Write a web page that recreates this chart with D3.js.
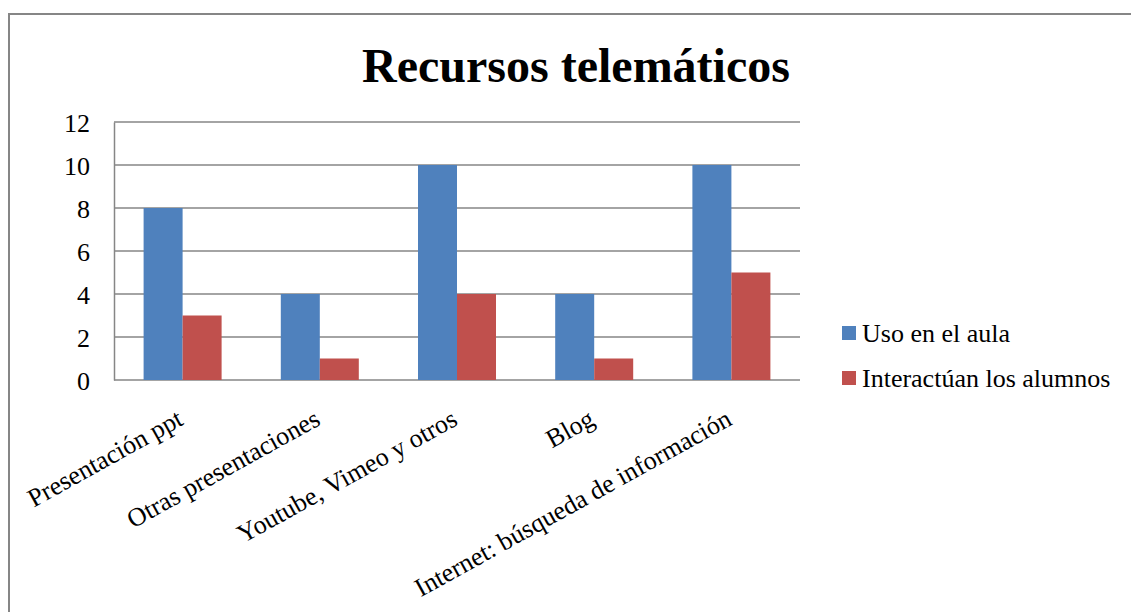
<!DOCTYPE html>
<html>
<head>
<meta charset="utf-8">
<script src="https://cdn.jsdelivr.net/npm/d3@7"></script>
<style>
  body { margin: 0; background: #fff; }
  text { font-family: "Liberation Serif", "Times New Roman", serif; fill: #000; }
</style>
</head>
<body>
<svg id="chart" width="1131" height="612"></svg>
<script>
var categories = ["Presentación ppt", "Otras presentaciones", "Youtube, Vimeo y otros", "Blog", "Internet: búsqueda de información"];
var seriesNames = ["Uso en el aula", "Interactúan los alumnos"];
var usoAula = [8, 4, 10, 4, 10];
var interactuan = [3, 1, 4, 1, 5];
var yTicks = [0, 2, 4, 6, 8, 10, 12];
var colors = ["#4F81BD", "#C0504D"];

var svg = d3.select('#chart');

// outer frame
svg.append("rect")
  .attr("x", 9).attr("y", 14)
  .attr("width", 1140).attr("height", 620)
  .attr("fill", "none")
  .attr("stroke", "#868686")
  .attr("stroke-width", 2);

svg.append("text")
  .attr("x", 576).attr("y", 82)
  .attr("text-anchor", "middle")
  .style("font-size", "48px")
  .style("font-weight", "bold")
  .text("Recursos telemáticos");

var plotLeft = 114, plotRight = 800, plotTop = 122, plotBottom = 380;

var x = d3.scaleBand().domain(categories).range([plotLeft, plotRight]);
var xSeries = d3.scaleBand().domain(seriesNames).range([0, 78]);
var y = d3.scaleLinear().domain([0, 12]).range([plotBottom, plotTop]);

// gridlines
svg.selectAll('.grid')
  .data(yTicks)
  .enter()
  .append("line")
  .attr("x1", plotLeft).attr("x2", plotRight)
  .attr("y1", function(d) { return y(d); })
  .attr("y2", function(d) { return y(d); })
  .attr("stroke", "#868686")
  .attr("stroke-width", 1.5);

// y axis
var yAxis = svg.append("g")
  .attr("transform", "translate(" + plotLeft + ",0)")
  .call(d3.axisLeft(y).tickValues(yTicks).tickSize(0).tickPadding(24));
yAxis.attr("font-family", "Liberation Serif").attr("font-size", 26);
yAxis.select(".domain").attr("stroke", "#868686").attr("stroke-width", 1.5);
yAxis.selectAll("text").attr("dy", "0.35em");

var rows = categories.map(function(c, i) {
  return { cat: c, values: [usoAula[i], interactuan[i]] };
});

var offset = (x.bandwidth() - 78) / 2;
var groups = svg.selectAll('.group')
  .data(rows)
  .enter()
  .append("g")
  .attr("transform", function(d) { return "translate(" + (x(d.cat) + offset) + ",0)"; });

groups.selectAll('rect')
  .data(function(d) { return d.values.map(function(v, j) { return { name: seriesNames[j], v: v, j: j }; }); })
  .enter()
  .append("rect")
  .attr("x", function(d) { return xSeries(d.name); })
  .attr("width", xSeries.bandwidth())
  .attr("y", function(d) { return y(d.v); })
  .attr("height", function(d) { return plotBottom - y(d.v); })
  .attr("fill", function(d) { return colors[d.j]; });

// category labels
svg.selectAll('.cat')
  .data(categories)
  .enter()
  .append("text")
  .attr("text-anchor", "end")
  .style("font-size", "26px")
  .attr("transform", function(d) {
    var cx = x(d) + x.bandwidth() / 2 + 2;
    return "translate(" + cx + "," + 424 + ") rotate(-29)";
  })
  .text(function(d) { return d; });

// legend
var legend = svg.selectAll('.legend')
  .data(seriesNames)
  .enter()
  .append("g")
  .attr("transform", function(d, i) { return "translate(842," + (326 + i * 45) + ")"; });
legend.append("rect")
  .attr("width", 14).attr("height", 14)
  .attr("fill", function(d, i) { return colors[i]; });
legend.append("text")
  .attr("x", 20).attr("y", 16)
  .style("font-size", "26px")
  .text(function(d) { return d; });
</script>
</body>
</html>
